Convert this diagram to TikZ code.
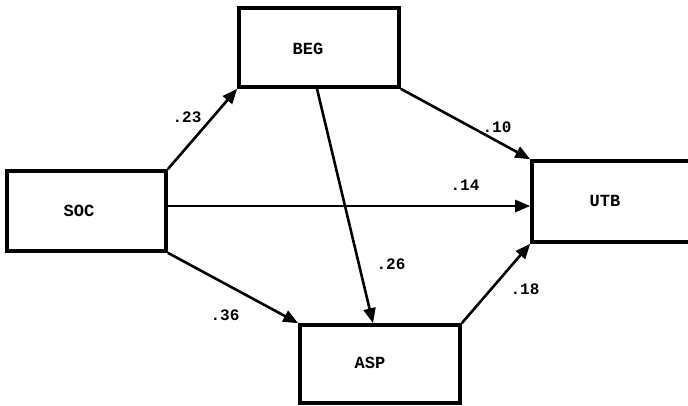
\documentclass[tikz,border=0pt]{standalone}
\usepackage{fontspec}
\setmonofont{Liberation Mono}
\usetikzlibrary{arrows.meta}
\tikzset{
  box/.style={draw, line width=3.6pt, rectangle, inner sep=0pt},
  boxtext/.style={font=\ttfamily\bfseries\fontsize{17}{17}\selectfont},
  coef/.style={font=\ttfamily\bfseries\fontsize{16}{16}\selectfont},
  path/.style={line width=2.6pt, -{Triangle[length=15pt,width=12pt]}}
}
\begin{document}
\begin{tikzpicture}[x=1pt,y=-1pt]
\useasboundingbox (0,0) rectangle (688,405);
\clip (0,0) rectangle (688,405);
\node[box, minimum width=160pt, minimum height=79pt] (beg) at (319,47.5) {};
\node[box, minimum width=159pt, minimum height=80pt] (soc) at (86.5,211) {};
\node[box, minimum width=168pt, minimum height=81pt] (utb) at (616,201.5) {};
\node[box, minimum width=160pt, minimum height=78pt] (asp) at (380,364) {};
\node[boxtext] (begt) at (308,49) {BEG};
\node[boxtext] (soct) at (79,211) {SOC};
\node[boxtext] (utbt) at (605,201) {UTB};
\node[boxtext] (aspt) at (370,363) {ASP};
\draw[path] (soc.north east) -- (beg.south west);
\draw[path] (beg.south east) -- (utb.north west);
\draw[path] ([yshift=5pt]soc.east) -- ([yshift=-4.5pt]utb.west);
\draw[path] (soc.south east) -- (asp.north west);
\draw[path] ([xshift=-2pt]beg.south) -- ([xshift=-7pt]asp.north);
\draw[path] (asp.north east) -- (utb.south west);
\node[coef] (c23) at (187,117) {.23};
\node[coef] (c10) at (497,127) {.10};
\node[coef] (c14) at (465,185) {.14};
\node[coef] (c26) at (391,264) {.26};
\node[coef] (c18) at (525,289) {.18};
\node[coef] (c36) at (225,315) {.36};
\end{tikzpicture}
\end{document}
